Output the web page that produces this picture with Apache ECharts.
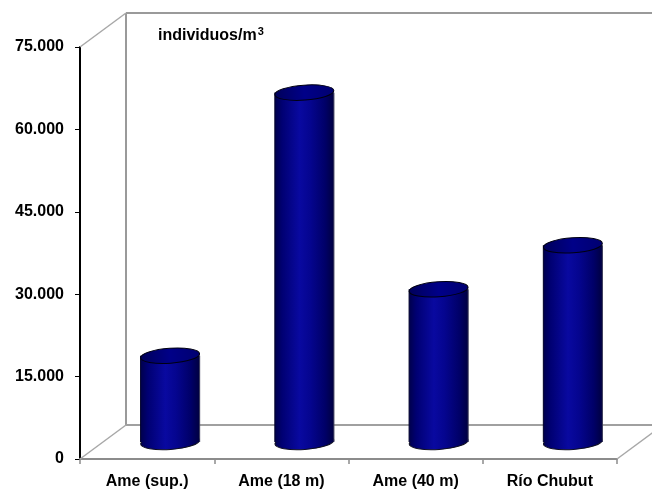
<!DOCTYPE html>
<html>
<head>
<meta charset="utf-8">
<script src="https://cdn.jsdelivr.net/npm/echarts@6/dist/echarts.min.js"></script>
<style>
  html, body { margin: 0; padding: 0; background: #fff; }
  #chart { width: 652px; height: 494px; }
</style>
</head>
<body>
<div id="chart"></div>
<script>
// Zooplankton density per site (individuals per cubic metre)
const categories = ['Ame (sup.)', 'Ame (18 m)', 'Ame (40 m)', 'Río Chubut'];
const densities = [15700, 63600, 27800, 35800];
const yTicks = [0, 15000, 30000, 45000, 60000, 75000];
const unitText = 'individuos/m';
const unitExponent = '3';

const FONT = '"Liberation Sans", Arial, sans-serif';
// Perspective offset of the back wall relative to the front plane (px)
const DEPTH = [46, -34];

function fmtThousands(v) {
  if (v === 0) return '0';
  return String(v).replace(/\B(?=(\d{3})+(?!\d))/g, '.');
}

const chart = echarts.init(document.getElementById('chart'), null, { renderer: 'canvas' });

const frontGrid = { left: 80, right: 35, top: 47, bottom: 35 };
const midGrid = {
  left: frontGrid.left + DEPTH[0] / 2,
  right: frontGrid.right - DEPTH[0] / 2,
  top: frontGrid.top + DEPTH[1] / 2,
  bottom: frontGrid.bottom - DEPTH[1] / 2
};

const bodyGradient = new echarts.graphic.LinearGradient(0, 0, 1, 0, [
  { offset: 0, color: '#00004c' },
  { offset: 0.12, color: '#000072' },
  { offset: 0.42, color: '#0909a0' },
  { offset: 0.6, color: '#05058f' },
  { offset: 0.85, color: '#000068' },
  { offset: 1, color: '#000040' }
]);
const topGradient = new echarts.graphic.LinearGradient(0, 0, 1, 0, [
  { offset: 0, color: '#00005a' },
  { offset: 0.5, color: '#000088' },
  { offset: 1, color: '#000070' }
]);

// Box walls and floor drawn in perspective from the front grid rectangle
function renderFrame(params, api) {
  const cs = params.coordSys;
  const x0 = cs.x, y0 = cs.y, x1 = cs.x + cs.width, y1 = cs.y + cs.height;
  const dx = DEPTH[0], dy = DEPTH[1];
  const wall = { stroke: '#9a9a9a', lineWidth: 2 };
  const diag = { stroke: '#a8a8a8', lineWidth: 1.5 };
  return {
    type: 'group',
    silent: true,
    children: [
      { type: 'line', shape: { x1: x0 + dx, y1: y0 + dy, x2: x1 + dx, y2: y0 + dy }, style: wall },
      { type: 'line', shape: { x1: x0 + dx, y1: y0 + dy, x2: x0 + dx, y2: y1 + dy }, style: wall },
      { type: 'line', shape: { x1: x0 + dx, y1: y1 + dy, x2: x1 + dx, y2: y1 + dy }, style: { stroke: '#a0a0a0', lineWidth: 2 } },
      { type: 'line', shape: { x1: x0, y1: y0, x2: x0 + dx, y2: y0 + dy }, style: diag },
      { type: 'line', shape: { x1: x0, y1: y1, x2: x0 + dx, y2: y1 + dy }, style: diag },
      { type: 'line', shape: { x1: x1, y1: y1, x2: x1 + dx, y2: y1 + dy }, style: diag }
    ]
  };
}

// Cylinder drawn on the mid-depth plane
function renderCylinder(params, api) {
  const idx = api.value(0);
  const val = api.value(1);
  const top = api.coord([idx, val]);
  const base = api.coord([idx, 0]);
  const band = api.size([1, 0])[0];
  const rx = band * 0.22;
  const ry = 7.5;
  const cx = top[0];
  const rot = 0.07;
  return {
    type: 'group',
    children: [
      {
        type: 'ellipse',
        shape: { cx: cx, cy: base[1], rx: rx, ry: ry },
        rotation: rot, originX: cx, originY: base[1],
        style: { fill: bodyGradient, stroke: '#101020', lineWidth: 1 }
      },
      {
        type: 'rect',
        shape: { x: cx - rx, y: top[1], width: rx * 2, height: base[1] - top[1] },
        style: { fill: bodyGradient }
      },
      {
        type: 'line',
        shape: { x1: cx - rx, y1: top[1], x2: cx - rx, y2: base[1] },
        style: { stroke: '#00002a', lineWidth: 1 }
      },
      {
        type: 'line',
        shape: { x1: cx + rx, y1: top[1], x2: cx + rx, y2: base[1] },
        style: { stroke: '#3a3a58', lineWidth: 1 }
      },
      {
        type: 'ellipse',
        shape: { cx: cx, cy: top[1], rx: rx, ry: ry },
        rotation: rot, originX: cx, originY: top[1],
        style: { fill: topGradient, stroke: '#000010', lineWidth: 1 }
      }
    ]
  };
}

const option = {
  backgroundColor: '#ffffff',
  animation: false,
  title: {
    text: '{b|' + unitText + '}{sup|' + unitExponent + '}',
    left: 153,
    top: 21,
    textStyle: {
      fontFamily: FONT, fontSize: 16, fontWeight: 'bold', color: '#000',
      rich: {
        b: { fontFamily: FONT, fontSize: 16, fontWeight: 'bold', color: '#000', verticalAlign: 'bottom', lineHeight: 18 },
        sup: { fontFamily: FONT, fontSize: 11, fontWeight: 'bold', color: '#000', verticalAlign: 'top', padding: [0, 0, 7, 1], lineHeight: 18 }
      }
    }
  },
  grid: [
    Object.assign({ containLabel: false }, frontGrid),
    Object.assign({ containLabel: false }, midGrid)
  ],
  xAxis: [
    {
      type: 'category',
      gridIndex: 0,
      data: categories,
      boundaryGap: true,
      axisLine: { lineStyle: { color: '#8c8c8c', width: 2 } },
      axisTick: { show: true, length: 5, interval: 0, lineStyle: { color: '#8c8c8c', width: 1.5 } },
      axisLabel: {
        interval: 0, margin: 15,
        fontFamily: FONT, fontSize: 16, fontWeight: 'bold', color: '#000'
      },
      splitLine: { show: false }
    },
    {
      type: 'category',
      gridIndex: 1,
      data: categories,
      boundaryGap: true,
      show: false
    }
  ],
  yAxis: [
    {
      type: 'value',
      gridIndex: 0,
      min: yTicks[0],
      max: yTicks[yTicks.length - 1],
      interval: yTicks[1] - yTicks[0],
      axisLine: { show: true, lineStyle: { color: '#000', width: 2 } },
      axisTick: { show: true, length: 5, lineStyle: { color: '#000', width: 1 } },
      axisLabel: {
        margin: 16,
        fontFamily: FONT, fontSize: 16, fontWeight: 'bold', color: '#000',
        formatter: fmtThousands
      },
      splitLine: { show: false }
    },
    {
      type: 'value',
      gridIndex: 1,
      min: yTicks[0],
      max: yTicks[yTicks.length - 1],
      interval: yTicks[1] - yTicks[0],
      show: false
    }
  ],
  series: [
    {
      type: 'custom',
      name: 'frame',
      xAxisIndex: 0,
      yAxisIndex: 0,
      silent: true,
      z: 1,
      renderItem: renderFrame,
      data: [[0, 0]]
    },
    {
      type: 'custom',
      name: 'densidad',
      xAxisIndex: 1,
      yAxisIndex: 1,
      z: 5,
      renderItem: renderCylinder,
      encode: { x: 0, y: 1 },
      data: densities.map((v, i) => [i, v])
    }
  ]
};

chart.setOption(option);
</script>
</body>
</html>
